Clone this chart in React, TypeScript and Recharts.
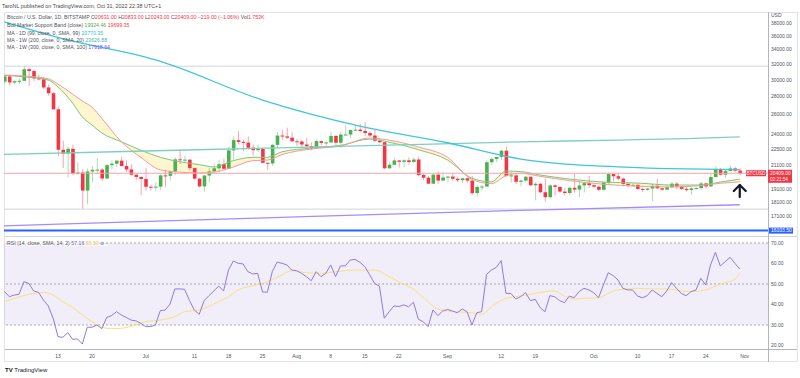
import React from "react";
import {
  ComposedChart,
  Bar,
  Line,
  Area,
  XAxis,
  YAxis,
  ReferenceLine,
  ReferenceArea,
  ReferenceDot,
} from "recharts";

const GREEN = "#4caf50";
const RED = "#f23645";
const FONT = '"Liberation Sans", Arial, sans-serif';

// daily candles, Jun 2 .. Oct 31 2022 (day index 1..152, Jun 1 = day 0)
const opens = [
  29800, 30450, 29700, 29860, 29900, 31370, 31130, 30200, 30100, 29090, 28400, 26580, 22490, 22130, 22580, 20380, 20470, 19000, 20560, 20700, 20720, 19970, 21100, 21230, 21500, 21030, 20730, 20280, 20100,
  19930, 19300, 19250, 19310, 20230, 20190, 20550, 21620, 21590, 21590, 20850, 19960, 19330, 20220, 20570, 20830, 21190, 20790, 22430, 23400, 23230, 23160, 22680, 22450, 22580, 21310, 21250, 22950, 23850, 23770, 23640,
  23290, 23270, 22980, 22820, 22620, 23310, 23140, 23180, 23810, 23150, 23950, 23950, 24400, 24440, 24300, 24100, 23850, 23340, 23200, 20830, 21140, 21520, 21400, 21530, 21380, 21600, 20260, 20040, 19550, 20290, 19800,
  20050, 20130, 19950, 19830, 19990, 19800, 18800, 19290, 19320, 21360, 21650, 21830, 22400, 20170, 20230, 19700, 19800, 20120, 19420, 19540, 18870, 18490, 19410, 19290, 18920, 18810, 19220, 19080, 19410, 19590,
  19430, 19310, 19060, 19630, 20340, 20160, 19960, 19530, 19420, 19450, 19130, 19060, 19160, 19380, 19180, 19070, 19270, 19550, 19330, 19130, 19040, 19170, 19200, 19570, 19330, 20090, 20770, 20290, 20600, 20820, 20631,
];
const highs = [
  30650, 30680, 29950, 30150, 31760, 31560, 31330, 30670, 30350, 29440, 28550, 26880, 23350, 22750, 22970, 21350, 20750, 20800, 20990, 21720, 20870, 21190, 21530, 21600, 21860, 21520, 21180, 20390, 20150,
  20870, 19430, 19650, 20320, 20700, 20670, 21820, 22500, 21950, 21600, 20860, 20050, 20250, 20880, 21200, 21580, 21680, 22760, 23750, 24280, 23430, 23750, 22990, 23000, 22660, 21330, 23080, 24200, 24420, 24640, 24170,
  23500, 23450, 23640, 23200, 23450, 23350, 23330, 24230, 23920, 24200, 24900, 24450, 24890, 25000, 25200, 24250, 24440, 23600, 23200, 21370, 21700, 21550, 21650, 21800, 21800, 21850, 20350, 20150, 20410, 20560, 20470,
  20200, 20430, 20050, 20000, 20030, 20170, 19450, 19450, 21500, 21800, 21830, 22490, 22790, 20530, 20340, 19880, 20170, 20130, 19680, 19620, 19950, 19490, 19500, 19320, 19180, 19300, 20380, 19760, 19640, 20180,
  19480, 19400, 19700, 20470, 20380, 20450, 20050, 19620, 19540, 19530, 19250, 19220, 19520, 19950, 19220, 19420, 19680, 19700, 19350, 19340, 19250, 19260, 19700, 19600, 20410, 21000, 20870, 20750, 21080, 20930, 20833,
];
const lows = [
  29600, 29300, 29480, 29500, 29880, 29250, 29850, 29950, 28870, 28120, 26570, 21900, 20850, 20060, 20250, 20260, 17600, 17950, 19640, 20350, 19780, 19900, 20760, 20950, 20980, 20530, 20200, 19850, 18630,
  19000, 19000, 18990, 19050, 19300, 19800, 20250, 21200, 21320, 20650, 19870, 19250, 18920, 19650, 20400, 20500, 20770, 20770, 21600, 23000, 22350, 22500, 21960, 22260, 21270, 20700, 21050, 22600, 23430, 23500, 23220,
  22850, 22660, 22700, 22440, 22600, 22900, 22860, 23150, 22870, 22670, 23900, 23600, 24310, 24170, 23790, 23720, 23200, 23100, 20780, 20800, 21100, 20900, 20900, 21150, 21320, 20150, 19850, 19550, 19550, 19540, 19790,
  19650, 19750, 19660, 19600, 19650, 18650, 18550, 19030, 19300, 21130, 21380, 21570, 20150, 19650, 19500, 19330, 19700, 19370, 18250, 18800, 18150, 18390, 18620, 18830, 18650, 18690, 18850, 18500, 18850, 19180,
  19180, 18940, 19000, 19500, 19750, 19850, 19330, 19250, 19320, 19040, 18880, 18980, 18200, 19110, 18990, 19070, 19160, 19110, 19060, 18920, 18650, 19110, 19080, 19160, 19250, 20060, 20210, 20010, 20560, 20520, 20243,
];
const closes = [
  30450, 29700, 29860, 29900, 31370, 31130, 30200, 30100, 29090, 28400, 26580, 22490, 22130, 22580, 20380, 20470, 19000, 20560, 20700, 20720, 19970, 21100, 21230, 21500, 21030, 20730, 20280, 20100, 19930,
  19300, 19250, 19310, 20230, 20190, 20550, 21620, 21590, 21590, 20850, 19960, 19330, 20220, 20570, 20830, 21190, 20790, 22430, 23400, 23230, 23160, 22680, 22450, 22580, 21310, 21250, 22950, 23850, 23770, 23640, 23290,
  23270, 22980, 22820, 22620, 23310, 23140, 23180, 23810, 23150, 23950, 23950, 24400, 24440, 24300, 24100, 23850, 23340, 23200, 20830, 21140, 21520, 21400, 21530, 21380, 21600, 20260, 20040, 19550, 20290, 19800, 20050,
  20130, 19950, 19830, 19990, 19800, 18800, 19290, 19320, 21360, 21650, 21830, 22400, 20170, 20230, 19700, 19800, 20120, 19420, 19540, 18870, 18490, 19410, 19290, 18920, 18810, 19220, 19080, 19410, 19590, 19430,
  19310, 19060, 19630, 20340, 20160, 19960, 19530, 19420, 19450, 19130, 19060, 19160, 19380, 19180, 19070, 19270, 19550, 19330, 19130, 19040, 19170, 19200, 19570, 19330, 20090, 20770, 20290, 20600, 20820, 20630, 20409,
];

// Bull Market Support Band
const bandDays = [0, 5, 10, 12, 15, 17, 19, 21, 25, 29, 33, 37, 41, 44, 48, 52, 55, 58, 64, 70, 76, 80, 86, 92, 97, 101, 104, 107, 111, 117, 124, 131, 138, 144, 148, 152];
const bandSma = [30630, 30400, 30000, 29150, 27280, 25750, 24900, 24100, 23250, 22450, 21800, 21400, 21150, 20950, 21500, 21800, 21800, 22300, 22650, 22900, 23500, 23200, 22500, 21550, 20000, 19700, 20600, 20550, 20260, 19930, 19680, 19600, 19440, 19440, 19680, 19924];
const bandEma = [30630, 30500, 30150, 29500, 28300, 27500, 26800, 25600, 23250, 21800, 20700, 20500, 20430, 20500, 20940, 21500, 21550, 22050, 22560, 22840, 23610, 23400, 22750, 21800, 19900, 19550, 20200, 20400, 20150, 19800, 19500, 19350, 19280, 19400, 19580, 19699];

// moving averages
const ma99Days = [1, 14, 29, 32, 54, 74, 92, 107, 114, 127, 141, 152];
const ma99 = [38150, 35400, 33130, 32590, 27620, 24800, 23150, 21645, 21290, 20960, 20780, 20720];
const ma200Days = [0, 28, 55, 82, 107, 127, 141, 152];
const ma200 = [22050, 22350, 22650, 22950, 23230, 23410, 23550, 23720];
const ma300Days = [0, 53, 109, 152];
const ma300 = [16410, 16960, 17530, 17918];

// RSI (14), day 1..152
const rsi = [
  46.3, 43.8, 44.6, 45, 51.1, 50.3, 46.6, 45.9, 42.2, 39.3, 33.3, 24.3, 24, 26.3, 23, 23.2, 20.7, 28.9, 28.9, 30,
  28.2, 33.7, 34.6, 36.5, 34.9, 33.7, 32.4, 32, 30.8, 29.2, 29.2, 30, 37, 37.3, 40.2, 47.6, 47.6, 47.4, 41.9, 37.3,
  35.2, 41.9, 44.3, 46.6, 49, 46.6, 56.8, 61.2, 60.1, 59.8, 56, 54.9, 55.2, 46.1, 46, 56, 60.7, 60.1, 59.3, 56.8,
  56.5, 55.2, 53.6, 51.6, 56, 53.6, 55.2, 59.3, 53.6, 58.8, 58.9, 61.7, 62, 60.6, 58.5, 54.5, 50.3, 49, 33.3, 36.5, 39.3,
  39, 39.8, 38.9, 41.1, 32.8, 31.6, 29.2, 37.3, 34.6, 36.8, 37.6, 36.8, 36, 37.8, 36.5, 30, 36, 36.5, 54.7, 56.8,
  58.1, 61.4, 45.4, 45.4, 42.7, 43.8, 45.8, 41.9, 42.5, 38.5, 36.5, 44.3, 43.8, 41.9, 40.9, 44.1, 43.3, 46.3, 47.9, 47.1,
  45.8, 43.3, 49.5, 55.5, 54.1, 52, 47.9, 47.1, 47.1, 44.1, 43.3, 44.3, 47.1, 45.4, 43.8, 46.6, 50.7, 47.9, 45.4, 44.3,
  46.3, 47.1, 52.8, 49.5, 59.3, 65.4, 58.8, 60.9, 63, 60.1, 57.3,
];
const rsiMaDays = [1, 3, 7, 9, 11, 13, 15, 17, 19, 21, 23, 25, 28, 30, 33, 36, 38, 41, 44, 47, 49, 52, 55, 58, 60, 63, 66, 69, 71, 74, 77, 80, 82, 85, 88, 90, 93, 96, 99, 101, 104, 107, 110, 112, 114, 116, 118, 120, 123, 126, 129, 131, 134, 137, 140, 142, 145, 148, 151, 152];
const rsiMa = [41.4, 43, 45.4, 45.9, 44.6, 41.4, 38.6, 34.9, 31.6, 28.9, 28.2, 28.4, 30, 31.6, 32.4, 34.1, 36.5, 37.3, 40.2, 43.8, 47.1, 49.2, 51.1, 54.4, 56.5, 55.5, 55.2, 56, 56.5, 56.8, 56.8, 53.6, 51.1, 47.4, 41.4, 37.8, 36.5, 36.2, 35.2, 38.9, 43, 44.1, 45.4, 46.3, 46.6, 44.1, 42.7, 43, 43.3, 46.6, 47.6, 47.9, 47.6, 47.6, 46.6, 46.3, 47.1, 50, 52.3, 55.6];

const dateTicks = [12, 19, 30, 40, 47, 54, 61, 68, 75, 82, 92, 103, 110, 122, 131, 138, 145, 153];
const dateLabels = ["13", "20", "Jul", "11", "18", "25", "Aug", "8", "15", "22", "Sep", "12", "19", "Oct", "10", "17", "24", "Nov"];
const priceTicks = [38000, 36000, 34000, 32000, 30000, 28000, 26000, 24000, 22500, 21100, 19100, 18100, 17100];
const rsiTicks = [70, 60, 50, 40, 30, 20];

const pick = (days: number[], vals: number[], d: number) => {
  const i = days.indexOf(d);
  return i < 0 ? null : vals[i];
};

const table = Array.from({ length: 154 }, (_, d) => ({
  d,
  open: opens[d - 1] ?? null,
  high: highs[d - 1] ?? null,
  low: lows[d - 1] ?? null,
  close: closes[d - 1] ?? null,
  sma: pick(bandDays, bandSma, d),
  ema: pick(bandDays, bandEma, d),
  ma99: pick(ma99Days, ma99, d),
  ma200: pick(ma200Days, ma200, d),
  ma300: pick(ma300Days, ma300, d),
  rsi: rsi[d - 1] ?? null,
  rsiMa: pick(rsiMaDays, rsiMa, d),
}));

const Candle = (props: any) => {
  const { x, width, payload } = props;
  let { y, height } = props;
  if (!payload || payload.open == null) return null;
  if (height < 0) {
    y += height;
    height = -height;
  }
  const { open, high, low, close } = payload;
  const span = Math.log(high) - Math.log(low);
  const toY = (v: number) => (span === 0 ? y : y + (height * (Math.log(high) - Math.log(v))) / span);
  const color = close >= open ? GREEN : RED;
  const top = toY(Math.max(open, close));
  const bot = toY(Math.min(open, close));
  const cx = x + width / 2;
  return (
    <g>
      <line x1={cx} x2={cx} y1={y} y2={y + height} stroke={color} strokeOpacity={0.45} strokeWidth={1} />
      <rect x={x} y={top} width={width} height={Math.max(bot - top, 1)} fill={color} />
    </g>
  );
};

const PriceTag = (props: any) => {
  const vb = props.viewBox || {};
  const right = vb.x + vb.width;
  const y = vb.y;
  return (
    <g style={{ fontFamily: FONT }}>
      <rect x={right - 22} y={y - 3} width={20} height={6} fill={RED} />
      <text x={right - 12} y={y + 2} fontSize={4.6} fill="#fff" textAnchor="middle">BTCUSD</text>
      <rect x={right} y={y - 3.5} width={24} height={13} fill={RED} />
      <text x={right + 2} y={y + 2} fontSize={5} fill="#fff">20409.00</text>
      <text x={right + 2} y={y + 8} fontSize={4.6} fill="#fff">02:21:54</text>
    </g>
  );
};

const BlueTag = (props: any) => {
  const vb = props.viewBox || {};
  const right = vb.x + vb.width;
  return (
    <g style={{ fontFamily: FONT }}>
      <rect x={right + 1} y={vb.y - 3} width={24} height={6} fill="#2962ff" />
      <text x={right + 3} y={vb.y + 1.8} fontSize={5} fill="#fff">16103.50</text>
    </g>
  );
};

const Arrow = (props: any) => {
  const { cx, cy } = props;
  return (
    <g stroke="#131722" strokeWidth={2.2} fill="none" strokeLinecap="round" strokeLinejoin="round">
      <line x1={cx} y1={cy} x2={cx} y2={cy + 12} />
      <polyline points={`${cx - 6},${cy + 6} ${cx},${cy} ${cx + 6},${cy + 6}`} />
    </g>
  );
};

const axisTick = { fontSize: 5, fill: "#50535e", fontFamily: FONT };

const txt = (top: number, left: number, children: React.ReactNode, extra: React.CSSProperties = {}) => (
  <div
    style={{
      position: "absolute",
      top,
      left,
      fontSize: 5.2,
      lineHeight: "6px",
      whiteSpace: "nowrap",
      color: "#50535e",
      fontFamily: FONT,
      ...extra,
    }}
  >
    {children}
  </div>
);

const hline = (top: number, left: number, width: number, color: string) => (
  <div style={{ position: "absolute", top, left, width, height: 1, background: color }} />
);
const vline = (left: number, top: number, height: number, color: string) => (
  <div style={{ position: "absolute", top, left, width: 1, height, background: color }} />
);

export default function App() {
  return (
    <div style={{ position: "relative", width: 800, height: 378, background: "#fff", overflow: "hidden" }}>
      <style>{"body{margin:0}"}</style>

      {hline(12, 4, 794, "#e0e3eb")}
      {hline(236, 4, 794, "#d1d4dc")}
      {hline(349, 4, 794, "#b2b5be")}
      {hline(361, 4, 794, "#e0e3eb")}
      {vline(4, 12, 350, "#e0e3eb")}
      {vline(797, 12, 350, "#e0e3eb")}
      {vline(768, 12, 350, "#b2b5be")}

      <div style={{ position: "absolute", top: 0, left: 0 }}>
        <ComposedChart width={800} height={378} data={table} margin={{ top: 12, right: 0, bottom: 144, left: 4 }}>
          <XAxis dataKey="d" type="number" domain={[0.91, 157.8]} allowDataOverflow hide />
          <YAxis
            orientation="right"
            scale="log"
            domain={[15880, 39730]}
            allowDataOverflow
            ticks={priceTicks}
            interval={0}
            width={32}
            axisLine={false}
            tickLine={false}
            tickSize={0}
            tickMargin={3}
            tick={axisTick}
            tickFormatter={(v) => Number(v).toFixed(2)}
          />
          <ReferenceLine y={31760} stroke="#d1d4dc" strokeWidth={1} />
          <ReferenceLine y={17600} stroke="#d1d4dc" strokeWidth={1} />
          <Area
            dataKey={(r: any) => (r.sma == null ? [null, null] : [r.ema, r.sma])}
            stroke="none"
            fill="#fbeea0"
            fillOpacity={0.5}
            connectNulls
            type="monotone"
            isAnimationActive={false}
          />
          <Line dataKey="sma" stroke="#7bc67e" strokeWidth={1} dot={false} connectNulls type="monotone" isAnimationActive={false} />
          <Line dataKey="ema" stroke="#f59a9a" strokeWidth={1} dot={false} connectNulls type="monotone" isAnimationActive={false} />
          <Line dataKey="ma200" stroke="#7fcfbf" strokeWidth={1.3} dot={false} connectNulls type="monotone" isAnimationActive={false} />
          <Line dataKey="ma300" stroke="#a78bfa" strokeWidth={1.3} dot={false} connectNulls type="monotone" isAnimationActive={false} />
          <Line dataKey="ma99" stroke="#3fc6d8" strokeWidth={1.3} dot={false} connectNulls type="monotone" isAnimationActive={false} />
          <ReferenceLine y={20409} stroke="#f7a1a8" strokeWidth={1} label={<PriceTag />} />
          <ReferenceLine y={16103.5} stroke="#2962ff" strokeWidth={2} label={<BlueTag />} />
          <Bar
            dataKey={(r: any) => (r.high == null ? null : [r.low, r.high])}
            barSize={3.6}
            shape={<Candle />}
            isAnimationActive={false}
          />
          <ReferenceDot x={152} y={19440} r={0} shape={<Arrow />} />
        </ComposedChart>
      </div>

      <div style={{ position: "absolute", top: 0, left: 0 }}>
        <ComposedChart width={800} height={378} data={table} margin={{ top: 237, right: 0, bottom: 15, left: 4 }}>
          <XAxis
            dataKey="d"
            type="number"
            domain={[0.91, 157.8]}
            allowDataOverflow
            ticks={dateTicks}
            interval={0}
            height={14}
            axisLine={false}
            tickLine={false}
            tickSize={0}
            tickMargin={5}
            tick={axisTick}
            tickFormatter={(v) => dateLabels[dateTicks.indexOf(v)] ?? ""}
          />
          <YAxis
            orientation="right"
            domain={[18.29, 72.93]}
            allowDataOverflow
            ticks={rsiTicks}
            interval={0}
            width={32}
            axisLine={false}
            tickLine={false}
            tickSize={0}
            tickMargin={3}
            tick={axisTick}
            tickFormatter={(v) => Number(v).toFixed(2)}
          />
          <ReferenceArea y1={30} y2={70} fill="#7e57c2" fillOpacity={0.1} stroke="none" />
          <ReferenceLine y={70} stroke="#9598a1" strokeDasharray="2 2" strokeWidth={0.8} />
          <ReferenceLine y={50} stroke="#9598a1" strokeDasharray="2 2" strokeWidth={0.8} />
          <ReferenceLine y={30} stroke="#9598a1" strokeDasharray="2 2" strokeWidth={0.8} />
          <Line dataKey="rsiMa" stroke="#f6e27a" strokeWidth={1} dot={false} connectNulls type="monotone" isAnimationActive={false} />
          <Line dataKey="rsi" stroke="#9479d9" strokeWidth={1} dot={false} connectNulls isAnimationActive={false} />
        </ComposedChart>
      </div>

      {txt(3, 2, "TaroNL published on TradingView.com, Oct 31, 2022 22:38 UTC+1", { color: "#4a4a4a", fontSize: 5.4 })}
      {txt(14, 7, (
        <>
          Bitcoin / U.S. Dollar, 1D, BITSTAMP{" "}
          O<span style={{ color: RED }}>20631.00</span> H<span style={{ color: RED }}>20833.00</span>{" "}
          L<span style={{ color: RED }}>20243.00</span> C<span style={{ color: RED }}>20409.00</span>{" "}
          <span style={{ color: RED }}>−219.00 (−1.06%)</span> Vol<span style={{ color: RED }}>1.753K</span>
        </>
      ))}
      {txt(22, 7, (
        <>
          Bull Market Support Band (close) <span style={{ color: GREEN }}>19924.46</span>{" "}
          <span style={{ color: RED }}>19699.35</span>
        </>
      ))}
      {txt(30, 7, (
        <>
          MA - 1D (99, close, 0, SMA, 99) <span style={{ color: "#26c6da" }}>20770.35</span>
        </>
      ))}
      {txt(37, 7, (
        <>
          MA - 1W (200, close, 0, SMA, 20) <span style={{ color: "#4db6ac" }}>23626.88</span>
        </>
      ))}
      {txt(44, 7, (
        <>
          MA - 1W (300, close, 0, SMA, 100) <span style={{ color: "#7c4dff" }}>17918.64</span>
        </>
      ))}
      {txt(240, 7, (
        <>
          RSI (14, close, SMA, 14, 2) <span style={{ color: "#7e57c2" }}>57.16</span>{" "}
          <span style={{ color: "#f9c74f" }}>55.59</span> ⊘ ◦
        </>
      ), { background: "rgba(255,255,255,0.6)" })}
      {txt(12, 771, "USD", { fontSize: 5 })}
      {txt(367, 5, (
        <>
          <b style={{ fontSize: 6 }}>TV</b> TradingView
        </>
      ), { fontSize: 6, color: "#131722", lineHeight: "7px" })}
    </div>
  );
}
